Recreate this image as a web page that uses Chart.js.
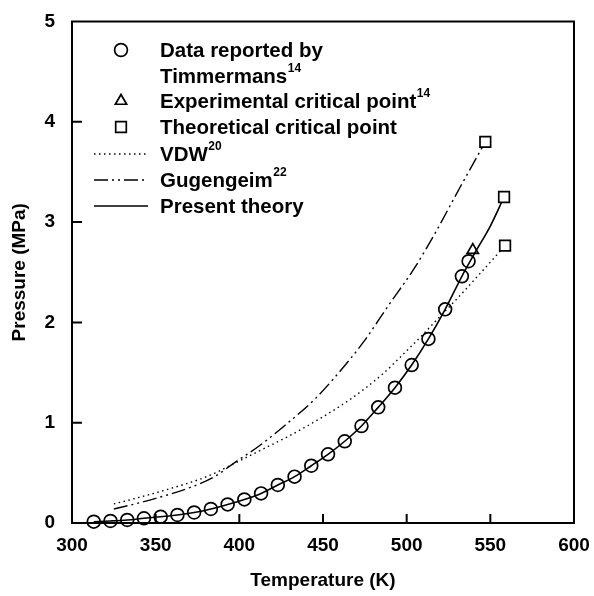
<!DOCTYPE html>
<html lang="en">
<head>
    <meta charset="UTF-8" />
    <title>Vapor pressure</title>
    <script src="https://cdn.jsdelivr.net/npm/chart.js"></script>
    <style>
        html, body { margin: 0; padding: 0; background: #fff; }
        #wrap { width: 594px; height: 596px; position: relative; }
    </style>
</head>
<body>
    <div id="wrap"><canvas id="chart" width="594" height="596"></canvas></div>

    <script>
        // Timmermans data (circles)
        const dataT = [313, 323, 333, 343, 353, 363, 373, 383, 393, 403, 413, 423, 433, 443, 453, 463, 473, 483, 493, 503, 513, 523, 533, 537];
        const dataP = [0.013, 0.02, 0.03, 0.047, 0.063, 0.08, 0.105, 0.14, 0.185, 0.235, 0.295, 0.379, 0.462, 0.571, 0.685, 0.815, 0.967, 1.153, 1.349, 1.575, 1.835, 2.13, 2.46, 2.61];

        // experimental critical point (triangle)
        const expT = [539.5];
        const expP = [2.72];

        // theoretical critical points (squares)
        const critT = [547, 558.2, 558.8];
        const critP = [3.80, 3.25, 2.765];

        // VDW (dotted)
        const vdwT = [325, 340, 353, 365, 377, 387, 396, 412, 430, 446, 466, 486, 496, 508, 520, 532, 544, 558.8];
        const vdwP = [0.19, 0.255, 0.315, 0.375, 0.44, 0.51, 0.585, 0.72, 0.87, 1.02, 1.23, 1.49, 1.65, 1.85, 2.06, 2.27, 2.49, 2.765];

        // Gugenheim (dash-dot-dot)
        const gugT = [325, 340, 355, 370, 385, 397, 412, 427, 446, 466, 474, 490, 505, 518, 532, 547];
        const gugP = [0.14, 0.2, 0.27, 0.35, 0.46, 0.60, 0.77, 0.97, 1.25, 1.63, 1.80, 2.19, 2.55, 2.92, 3.35, 3.80];

        // present theory (solid)
        const theoryT = [313, 323, 333, 343, 353, 363, 373, 383, 393, 403, 413, 423, 433, 443, 453, 463, 473, 483, 493, 503, 513, 523, 533, 541, 550, 558.2];
        const theoryP = [0.013, 0.02, 0.03, 0.047, 0.063, 0.08, 0.105, 0.14, 0.185, 0.235, 0.295, 0.379, 0.462, 0.571, 0.685, 0.815, 0.967, 1.153, 1.349, 1.575, 1.835, 2.13, 2.46, 2.70, 2.96, 3.25];

        const xTicks = [300, 350, 400, 450, 500, 550, 600];
        const yTicks = [0, 1, 2, 3, 4, 5];

        const FONT = "'Liberation Sans', Arial, Helvetica, sans-serif";

        function pts(xs, ys) {
            return xs.map((x, i) => ({ x: x, y: ys[i] }));
        }

        const circleStyle = { pointStyle: 'circle', radius: 6.4, borderWidth: 1.7, borderColor: '#000', backgroundColor: 'rgba(0,0,0,0)' };
        const triStyle = { pointStyle: 'triangle', radius: 6.5, borderWidth: 1.7, borderColor: '#000', backgroundColor: 'rgba(0,0,0,0)' };
        const rectStyle = { pointStyle: 'rect', radius: 7.5, borderWidth: 1.7, borderColor: '#000', backgroundColor: '#fff' };

        const legendRows = [
            { kind: 'point', style: circleStyle, text: 'Data reported by', y: 50 },
            { kind: 'none', text: 'Timmermans', sup: '14', y: 76 },
            { kind: 'point', style: triStyle, text: 'Experimental critical point', sup: '14', y: 101 },
            { kind: 'point', style: rectStyle, text: 'Theoretical critical point', y: 127 },
            { kind: 'line', dash: [1.5, 3.5], text: 'VDW', sup: '20', y: 154 },
            { kind: 'line', dash: [14, 4, 2, 4, 2, 4], text: 'Gugengeim', sup: '22', y: 180 },
            { kind: 'line', dash: [], text: 'Present theory', y: 206 }
        ];

        // frame, inward ticks and legend
        const framePlugin = {
            id: 'frame',
            afterDraw(chart) {
                const { ctx, chartArea: a, scales } = chart;
                ctx.save();
                ctx.strokeStyle = '#000';
                ctx.lineWidth = 2;
                ctx.strokeRect(a.left, a.top, a.right - a.left, a.bottom - a.top);
                ctx.beginPath();
                xTicks.slice(1, -1).forEach(v => {
                    const px = scales.x.getPixelForValue(v);
                    ctx.moveTo(px, a.bottom);
                    ctx.lineTo(px, a.bottom - 9);
                });
                yTicks.slice(1, -1).forEach(v => {
                    const py = scales.y.getPixelForValue(v);
                    ctx.moveTo(a.left, py);
                    ctx.lineTo(a.left + 10, py);
                });
                ctx.stroke();

                // legend
                ctx.textBaseline = 'middle';
                legendRows.forEach(r => {
                    if (r.kind === 'point') {
                        ctx.fillStyle = r.style.backgroundColor;
                        ctx.strokeStyle = r.style.borderColor;
                        ctx.lineWidth = r.style.borderWidth;
                        Chart.helpers.drawPoint(ctx, r.style, 121, r.y);
                    } else if (r.kind === 'line') {
                        ctx.beginPath();
                        ctx.strokeStyle = '#000';
                        ctx.setLineDash(r.dash);
                        ctx.lineWidth = 1.4;
                        ctx.moveTo(94, r.y);
                        ctx.lineTo(148, r.y);
                        ctx.stroke();
                        ctx.setLineDash([]);
                    }
                    ctx.fillStyle = '#000';
                    ctx.font = 'bold 20.5px ' + FONT;
                    ctx.fillText(r.text, 160, r.y + 1);
                    if (r.sup) {
                        const w = ctx.measureText(r.text).width;
                        ctx.font = 'bold 12px ' + FONT;
                        ctx.fillText(r.sup, 160 + w + 0.5, r.y - 7);
                    }
                });
                ctx.restore();
            }
        };

        const ctx = document.getElementById('chart').getContext('2d');
        const chart = new Chart(ctx, {
            type: 'scatter',
            data: {
                datasets: [
                    {
                        label: 'Data reported by Timmermans',
                        data: pts(dataT, dataP),
                        pointStyle: 'circle',
                        pointRadius: circleStyle.radius,
                        pointBorderWidth: circleStyle.borderWidth,
                        pointBorderColor: '#000',
                        pointBackgroundColor: 'rgba(0,0,0,0)',
                        showLine: false,
                        clip: false
                    },
                    {
                        label: 'Experimental critical point',
                        data: pts(expT, expP),
                        pointStyle: 'triangle',
                        pointRadius: triStyle.radius,
                        pointBorderWidth: triStyle.borderWidth,
                        pointBorderColor: '#000',
                        pointBackgroundColor: 'rgba(0,0,0,0)',
                        showLine: false
                    },
                    {
                        label: 'Theoretical critical point',
                        data: pts(critT, critP),
                        pointStyle: 'rect',
                        pointRadius: rectStyle.radius,
                        pointBorderWidth: rectStyle.borderWidth,
                        pointBorderColor: '#000',
                        pointBackgroundColor: '#fff',
                        showLine: false
                    },
                    {
                        label: 'Present theory',
                        data: pts(theoryT, theoryP),
                        showLine: true,
                        pointRadius: 0,
                        borderColor: '#000',
                        borderWidth: 1.6,
                        cubicInterpolationMode: 'monotone',
                        clip: false
                    },
                    {
                        label: 'VDW',
                        data: pts(vdwT, vdwP),
                        showLine: true,
                        pointRadius: 0,
                        borderColor: '#000',
                        borderWidth: 1.4,
                        borderDash: [1.5, 3.5],
                        cubicInterpolationMode: 'monotone'
                    },
                    {
                        label: 'Gugengeim',
                        data: pts(gugT, gugP),
                        showLine: true,
                        pointRadius: 0,
                        borderColor: '#000',
                        borderWidth: 1.4,
                        borderDash: [14, 4, 2, 4, 2, 4],
                        cubicInterpolationMode: 'monotone'
                    }
                ]
            },
            options: {
                responsive: false,
                animation: false,
                layout: { padding: { top: 21.5, right: 20, left: 0, bottom: 0 } },
                plugins: {
                    legend: { display: false },
                    tooltip: { enabled: false }
                },
                scales: {
                    x: {
                        type: 'linear',
                        min: 300,
                        max: 600,
                        afterBuildTicks: s => { s.ticks = xTicks.map(v => ({ value: v })); },
                        afterFit: s => { s.height = 73; s.paddingLeft = 0; s.paddingRight = 0; },
                        grid: { display: false, drawTicks: false },
                        border: { display: false },
                        ticks: { color: '#000', padding: 11, font: { family: FONT, size: 19, weight: 'bold' } },
                        title: {
                            display: true,
                            text: 'Temperature (K)',
                            color: '#000',
                            padding: { top: 0, bottom: 4 },
                            font: { family: FONT, size: 19, weight: 'bold' }
                        }
                    },
                    y: {
                        type: 'linear',
                        min: 0,
                        max: 5,
                        afterBuildTicks: s => { s.ticks = yTicks.map(v => ({ value: v })); },
                        afterFit: s => { s.width = 72; s.paddingTop = 0; s.paddingBottom = 0; },
                        grid: { display: false, drawTicks: false },
                        border: { display: false },
                        ticks: { color: '#000', padding: 17, font: { family: FONT, size: 19, weight: 'bold' } },
                        title: {
                            display: true,
                            text: 'Pressure (MPa)',
                            color: '#000',
                            padding: { top: 8, bottom: 0 },
                            font: { family: FONT, size: 19, weight: 'bold' }
                        }
                    }
                }
            },
            plugins: [framePlugin]
        });
    </script>
</body>
</html>
